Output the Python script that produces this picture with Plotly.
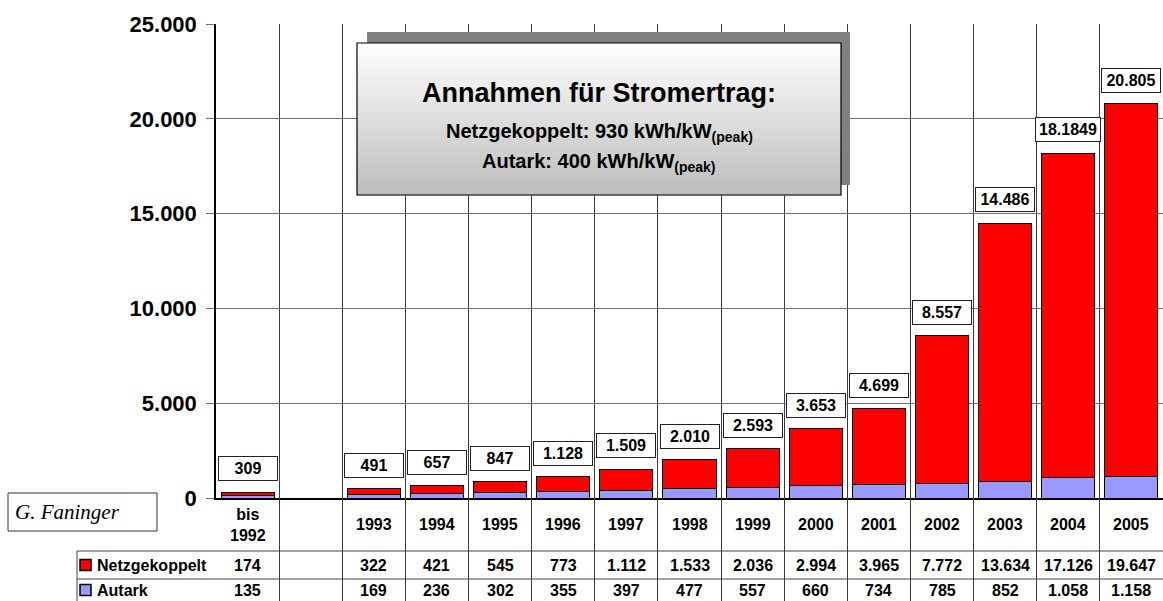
import plotly.graph_objects as go

# categories (the second slot is an empty column in the original)
categories = ["bis<br>1992", "", "1993", "1994", "1995", "1996", "1997", "1998",
              "1999", "2000", "2001", "2002", "2003", "2004", "2005"]
netzgekoppelt = [174, None, 322, 421, 545, 773, 1112, 1533, 2036, 2994, 3965,
                 7772, 13634, 17126, 19647]
autark = [135, None, 169, 236, 302, 355, 397, 477, 557, 660, 734, 785, 852,
          1058, 1158]
total_labels = ["309", "", "491", "657", "847", "1.128", "1.509", "2.010", "2.593",
                "3.653", "4.699", "8.557", "14.486", "18.1849", "20.805"]

RED = "#FF0000"
LILAC = "#9999FF"
HGRID = "#707070"
VGRID = "#3a3a3a"
FONT = "Arial, Liberation Sans, sans-serif"

W, H = 1163, 601
L, T = 216, 24
PW, PH = W - L, H - T
split = 103 / PH   # table region height (px) as fraction of plot height


def px(x):
    return (x - L) / PW


def py(y):
    return (H - y) / PH


def fmt(v):
    return "" if v is None else f"{v:,}".replace(",", ".")


xs = list(range(len(categories)))
fig = go.Figure()
fig.add_trace(go.Bar(x=xs, y=autark, name="Autark", marker_color=LILAC,
                     marker_line=dict(color="black", width=1), width=0.84))
fig.add_trace(go.Bar(x=xs, y=netzgekoppelt, name="Netzgekoppelt", marker_color=RED,
                     marker_line=dict(color="black", width=1), width=0.84))

annotations = []
shapes = []

# boxed totals above bars
for i, lab in enumerate(total_labels):
    if not lab:
        continue
    tot = (netzgekoppelt[i] or 0) + (autark[i] or 0)
    annotations.append(dict(x=i, y=tot, xref="x", yref="y", text="<b>%s</b>" % lab,
                            showarrow=False, xanchor="center", yanchor="bottom", yshift=11,
                            font=dict(family=FONT, size=16, color="black"),
                            bgcolor="white", bordercolor="#222222", borderwidth=1,
                            borderpad=3, width=58 if len(lab) > 6 else 52))

# data table below the chart
for i in xs:
    for yy, val in ((76.5, categories[i]), (36, fmt(netzgekoppelt[i])), (11, fmt(autark[i]))):
        if not val:
            continue
        annotations.append(dict(x=i, y=yy, xref="x2", yref="y2", text="<b>%s</b>" % val,
                                showarrow=False, xanchor="center", yanchor="middle",
                                font=dict(family=FONT, size=16, color="black")))

for yy in (50, 22):
    shapes.append(dict(type="line", xref="paper", yref="y2", x0=px(77), x1=1, y0=yy, y1=yy,
                       line=dict(color="#404040", width=1)))
shapes.append(dict(type="line", xref="paper", yref="y2", x0=px(77), x1=px(77), y0=0, y1=50,
                   line=dict(color="#404040", width=1)))

# legend keys inside the table
for name, col, yc in (("Netzgekoppelt", RED, 36), ("Autark", LILAC, 11)):
    shapes.append(dict(type="rect", xref="paper", yref="y2", x0=px(80), x1=px(91),
                       y0=yc - 5.5, y1=yc + 5.5, fillcolor=col, line=dict(color="black", width=1.5)))
    annotations.append(dict(x=px(95), y=yc, xref="paper", yref="y2", text="<b>%s</b>" % name,
                            showarrow=False, xanchor="left", yanchor="middle",
                            font=dict(family=FONT, size=16, color="black")))

# author box
shapes.append(dict(type="rect", xref="paper", yref="paper", x0=px(8), x1=px(157),
                   y0=py(531), y1=py(493), fillcolor="white", line=dict(color="#333333", width=1)))
annotations.append(dict(x=px(13), y=py(512), xref="paper", yref="paper", text="<i>G. Faninger</i>",
                        showarrow=False, xanchor="left", yanchor="middle",
                        font=dict(family="Liberation Serif, DejaVu Serif, serif", size=21, color="black")))

# info box: shadow, gradient body, border
shapes.append(dict(type="rect", xref="paper", yref="paper", x0=px(367), x1=px(850),
                   y0=py(185), y1=py(32), fillcolor="#808080", line=dict(width=0)))
top, bot = 43, 195
n = 38
for k in range(n):
    g = int(255 - (255 - 190) * k / (n - 1))
    y0 = top + (bot - top) * k / n
    y1 = top + (bot - top) * (k + 1) / n
    shapes.append(dict(type="rect", xref="paper", yref="paper", x0=px(357), x1=px(841),
                       y0=py(y1 + 0.5), y1=py(y0), fillcolor="rgb(%d,%d,%d)" % (g, g, g),
                       line=dict(width=0)))
shapes.append(dict(type="rect", xref="paper", yref="paper", x0=px(357), x1=px(841),
                   y0=py(bot), y1=py(top), fillcolor="rgba(0,0,0,0)", line=dict(color="black", width=1.2)))
box_texts = [(93, "<b>Annahmen für Stromertrag:</b>", 27),
             (132, "<b>Netzgekoppelt: 930 kWh/kW<sub>(peak)</sub></b>", 20),
             (162, "<b>Autark: 400 kWh/kW<sub>(peak)</sub></b>", 20)]
for yc, txt, size in box_texts:
    annotations.append(dict(x=px(599), y=py(yc), xref="paper", yref="paper", text=txt,
                            showarrow=False, xanchor="center", yanchor="middle",
                            font=dict(family=FONT, size=size, color="black")))

fig.update_layout(
    width=W, height=H, margin=dict(l=L, r=0, t=T, b=0, pad=0, autoexpand=False),
    paper_bgcolor="white", plot_bgcolor="white",
    barmode="stack", showlegend=False, separators=",.",
    font=dict(family=FONT, color="black"),
    xaxis=dict(domain=[0, 1], range=[-0.5, 14.5], tickmode="linear", tick0=-0.5, dtick=1,
               showticklabels=False, ticks="", showgrid=True, gridcolor=VGRID, gridwidth=1,
               zeroline=False, showline=True, linecolor="black", linewidth=2, anchor="y",
               automargin=False),
    yaxis=dict(domain=[split, 1], range=[0, 25000], tickmode="linear", tick0=0, dtick=5000,
               tickformat=",d", showgrid=True, gridcolor=HGRID, gridwidth=1, zeroline=False,
               showline=True, linecolor="black", linewidth=1.5, ticks="outside", ticklen=8,
               tickcolor=HGRID, ticklabelstandoff=5, automargin=False,
               tickfont=dict(family=FONT, size=22, color="black", weight="bold")),
    xaxis2=dict(matches="x", anchor="y2", tickmode="linear", tick0=-0.5, dtick=1,
                showticklabels=False, ticks="", showgrid=True, gridcolor=VGRID, gridwidth=1,
                zeroline=False, showline=False, automargin=False),
    yaxis2=dict(domain=[0, split], range=[0, 103], showgrid=False, showticklabels=False,
                zeroline=False, showline=False, ticks="", fixedrange=True, automargin=False),
    annotations=annotations, shapes=shapes,
)

fig.write_html("out.html", config={"displayModeBar": False},
               post_script="document.body.style.margin='0';")
